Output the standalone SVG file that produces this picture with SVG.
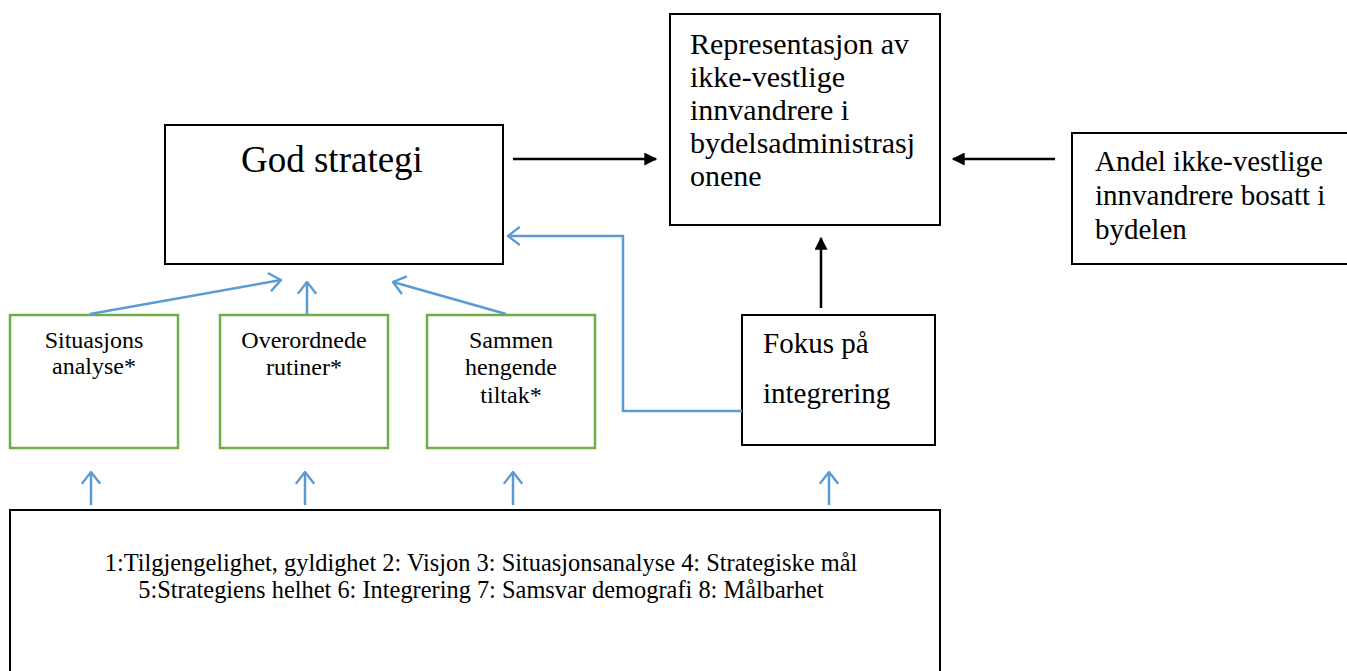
<svg xmlns="http://www.w3.org/2000/svg" width="1347" height="671" viewBox="0 0 1347 671">
<style>
.box{fill:#fff;stroke:#000;stroke-width:2}
.gbox{fill:#fff;stroke:#70AD47;stroke-width:2.5}
.t{font-family:"Liberation Serif",serif;fill:#000}
.blk{stroke:#000;stroke-width:2.5;fill:none}
.blu{stroke:#5B9BD5;stroke-width:2.5;fill:none}
</style>
<defs>
<marker id="ah" viewBox="0 0 10 10" refX="9" refY="5" markerWidth="14" markerHeight="13" orient="auto" markerUnits="userSpaceOnUse">
<path d="M0,0 L10,5 L0,10 z" fill="#000"/>
</marker>
<marker id="oh" viewBox="0 0 12 16" refX="11" refY="8" markerWidth="16" markerHeight="21" orient="auto" markerUnits="userSpaceOnUse">
<path d="M2,1 L11,8 L2,15" fill="none" stroke="#5B9BD5" stroke-width="1.8"/>
</marker>
</defs>
<rect width="1347" height="671" fill="#fff"/>
<g id="god-strategi">
<rect class="box" x="165" y="125" width="338" height="139"/>
<text class="t" x="241" y="172" font-size="37">God strategi</text>
</g>
<g id="representasjon">
<rect class="box" x="670" y="14" width="270" height="211"/>
<text class="t" font-size="30"><tspan x="690" y="54">Representasjon av</tspan><tspan x="690" y="87">ikke-vestlige</tspan><tspan x="690" y="120">innvandrere i</tspan><tspan x="690" y="153">bydelsadministrasj</tspan><tspan x="690" y="186">onene</tspan></text>
</g>
<g id="andel">
<rect class="box" x="1072" y="133" width="280" height="131"/>
<text class="t" font-size="29"><tspan x="1095" y="171">Andel ikke-vestlige</tspan><tspan x="1095" y="205">innvandrere bosatt i</tspan><tspan x="1095" y="239">bydelen</tspan></text>
</g>
<g id="fokus">
<rect class="box" x="742" y="315" width="193" height="130"/>
<text class="t" font-size="29"><tspan x="763" y="353">Fokus på</tspan><tspan x="763" y="403">integrering</tspan></text>
</g>
<g id="situasjons">
<rect class="gbox" x="10" y="315" width="168" height="133"/>
<text class="t" font-size="24" text-anchor="middle"><tspan x="94" y="348">Situasjons</tspan><tspan x="94" y="374">analyse*</tspan></text>
</g>
<g id="overordnede">
<rect class="gbox" x="220" y="315" width="168" height="133"/>
<text class="t" font-size="24" text-anchor="middle"><tspan x="304" y="348">Overordnede</tspan><tspan x="304" y="375">rutiner*</tspan></text>
</g>
<g id="sammen">
<rect class="gbox" x="427" y="315" width="168" height="133"/>
<text class="t" font-size="24" text-anchor="middle"><tspan x="511" y="348">Sammen</tspan><tspan x="511" y="375">hengende</tspan><tspan x="511" y="403">tiltak*</tspan></text>
</g>
<g id="kriterier">
<rect class="box" x="10" y="510" width="930" height="170"/>
<text class="t" font-size="24.4" text-anchor="middle"><tspan x="481" y="571">1:Tilgjengelighet, gyldighet 2: Visjon 3: Situasjonsanalyse 4: Strategiske mål</tspan><tspan x="481" y="598">5:Strategiens helhet 6: Integrering 7: Samsvar demografi 8: Målbarhet</tspan></text>
</g>
<g id="connectors">
<line class="blk" x1="513" y1="159" x2="656" y2="159" marker-end="url(#ah)"/>
<line class="blk" x1="1055" y1="159" x2="953" y2="159" marker-end="url(#ah)"/>
<line class="blk" x1="821" y1="308" x2="821" y2="238" marker-end="url(#ah)"/>
<line class="blu" x1="90" y1="314" x2="281" y2="280" marker-end="url(#oh)"/>
<line class="blu" x1="307" y1="314" x2="307" y2="282" marker-end="url(#oh)"/>
<line class="blu" x1="506" y1="314" x2="393" y2="282" marker-end="url(#oh)"/>
<polyline class="blu" points="742,411 623,411 623,236 508,236" marker-end="url(#oh)"/>
<line class="blu" x1="91" y1="505" x2="91" y2="472" marker-end="url(#oh)"/>
<line class="blu" x1="305" y1="505" x2="305" y2="472" marker-end="url(#oh)"/>
<line class="blu" x1="513" y1="505" x2="513" y2="472" marker-end="url(#oh)"/>
<line class="blu" x1="829" y1="505" x2="829" y2="472" marker-end="url(#oh)"/>
</g>
</svg>
